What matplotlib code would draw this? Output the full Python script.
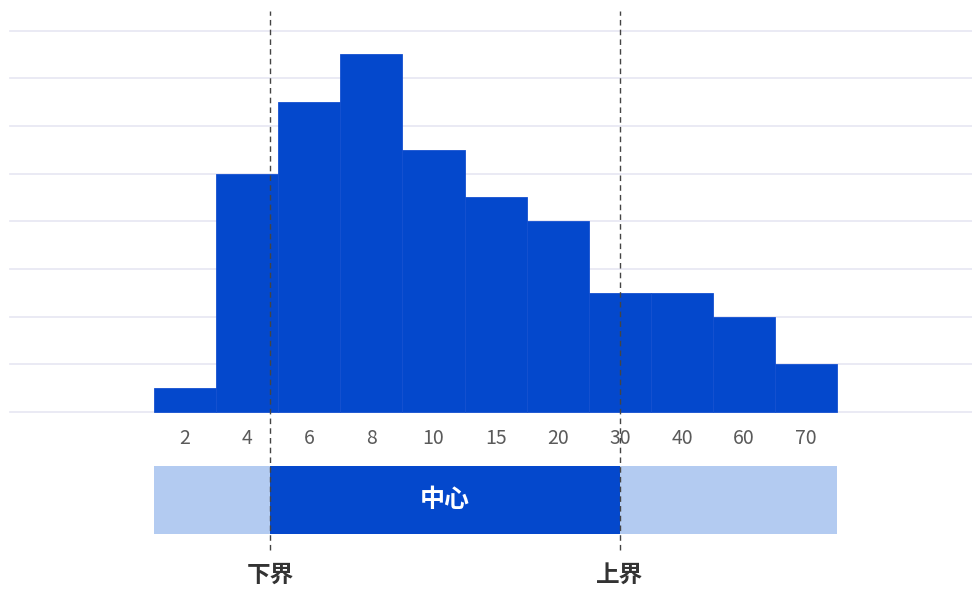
import matplotlib
matplotlib.use("Agg")
import matplotlib.pyplot as plt
from matplotlib.patches import Rectangle

# histogram bins and counts
categories = ["2", "4", "6", "8", "10", "15", "20", "30", "40", "60", "70"]
counts = [0.5, 5.0, 6.5, 7.5, 5.5, 4.5, 4.0, 2.5, 2.5, 2.0, 1.0]

# bounds of the central range, in bin-index units
lower_bound = 1.37
upper_bound = 7.0
center_label = "中心"
lower_label = "下界"
upper_label = "上界"

BAR = "#0448cc"
LIGHT = "#b3cbf1"
GRID = "#e6e6f2"

plt.rcParams["font.family"] = ["Noto Sans CJK SC", "DejaVu Sans"]

fig = plt.figure(figsize=(9.72, 5.89), dpi=100)
ax = fig.add_axes([0, 0, 1, 1])
ax.set_xlim(-2.98, 12.67)
ax.set_ylim(-3.71, 8.64)
ax.axis("off")

# horizontal grid
for g in range(0, 9):
    ax.plot([-2.82, 12.67], [g, g], color=GRID, lw=1.2, zorder=0)

xs = list(range(len(categories)))
ax.bar(xs, counts, width=1.0, color=BAR, edgecolor="#1550d0", linewidth=0.6, zorder=2)

for x, lab in zip(xs, categories):
    ax.text(x, -0.55, lab, ha="center", va="center", fontsize=14, color="#5a5a5a")

# range band below the axis
band_lo, band_hi = -2.56, -1.13
ax.add_patch(Rectangle((-0.5, band_lo), len(categories), band_hi - band_lo,
                       facecolor=LIGHT, edgecolor="none", zorder=2))
ax.add_patch(Rectangle((lower_bound, band_lo), upper_bound - lower_bound, band_hi - band_lo,
                       facecolor=BAR, edgecolor="none", zorder=3))
ax.text((lower_bound + upper_bound) / 2, (band_lo + band_hi) / 2, center_label,
        ha="center", va="center", fontsize=18, fontweight="bold", color="white", zorder=4)

# dashed bound markers
for b, lab in [(lower_bound, lower_label), (upper_bound, upper_label)]:
    ax.plot([b, b], [-2.9, 8.4], color="#444444", lw=1.0, ls=(0, (4, 3)), zorder=5)
    ax.text(b, -3.42, lab, ha="center", va="center", fontsize=17,
            fontweight="bold", color="#333333")

fig.savefig("out.png", dpi=100)
